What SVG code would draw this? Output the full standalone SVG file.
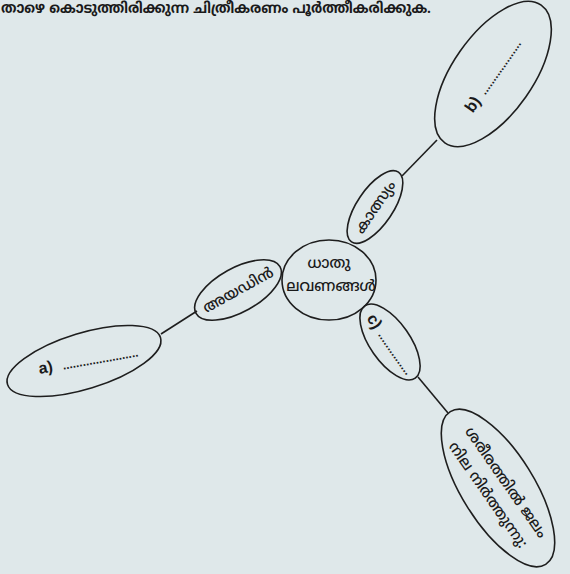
<svg xmlns="http://www.w3.org/2000/svg" width="570" height="574" viewBox="0 0 570 574">
<style>
.bg{fill:#dfe8ea}
.n{fill:none;stroke:#1e1e1e;stroke-width:1.6}
.c{stroke:#1e1e1e;stroke-width:1.6;fill:none}
.t{font-family:"Noto Sans Malayalam","Noto Sans",sans-serif;fill:#1a1a1a;font-size:15px;font-weight:500;text-anchor:middle}
.h{font-family:"Noto Sans Malayalam","Noto Sans",sans-serif;fill:#1a1a1a;font-size:15px;font-weight:bold}
.l{font-family:"Liberation Sans",sans-serif;fill:#1a1a1a;font-size:16px;font-weight:bold}
.d{font-family:"Liberation Sans",sans-serif;fill:#1a1a1a;font-size:12px;font-weight:bold}
</style>
<rect class="bg" x="0" y="0" width="570" height="574"/>
<text class="h" x="1" y="13" textLength="430" lengthAdjust="spacingAndGlyphs">താഴെ കൊടുത്തിരിക്കുന്ന ചിത്രീകരണം പൂർത്തീകരിക്കുക.</text>
<g id="connectors">
<line class="c" x1="161" y1="334" x2="197" y2="311"/>
<line class="c" x1="402" y1="176" x2="437" y2="140"/>
<line class="c" x1="418" y1="377" x2="448" y2="413"/>
</g>
<g id="center">
<ellipse class="n" cx="329" cy="280" rx="47" ry="40"/>
<text class="t" x="329" y="268">ധാതു</text>
<text class="t" x="331" y="291">ലവണങ്ങൾ</text>
</g>
<g id="ayadin" transform="translate(238,290) rotate(-29)">
<ellipse class="n" cx="0" cy="0" rx="48" ry="22"/>
<text class="t" x="0" y="5">അയഡിൻ</text>
</g>
<g id="kalsyam" transform="translate(375,207) rotate(-56)">
<ellipse class="n" cx="0" cy="0" rx="42" ry="18"/>
<text class="t" x="0" y="5">കാത്സ്യം</text>
</g>
<g id="c" transform="translate(390,342) rotate(55)">
<ellipse class="n" cx="0" cy="0" rx="44" ry="20"/>
<text class="l" x="-33" y="6">c)</text>
<text class="d" x="-13" y="6">...............</text>
</g>
<g id="b" transform="translate(493,74) rotate(-55)">
<ellipse class="n" cx="0" cy="0" rx="84" ry="40"/>
<text class="l" x="-44" y="6">b)</text>
<text class="d" x="-22" y="6">...................</text>
</g>
<g id="a" transform="translate(84,361) rotate(-10)">
<ellipse class="n" cx="0" cy="0" rx="80" ry="28" transform="rotate(-7)"/>
<text class="l" x="-46" y="5">a)</text>
<text class="d" x="-22" y="5">.......................</text>
</g>
<g id="jalam" transform="translate(498,488) rotate(55)">
<ellipse class="n" cx="0" cy="0" rx="90" ry="36" transform="rotate(3)"/>
<text class="t" x="0" y="-5">ശരീരത്തിൽ ജലം</text>
<text class="t" x="0" y="17">നില നിർത്തുന്നു:</text>
</g>
</svg>
